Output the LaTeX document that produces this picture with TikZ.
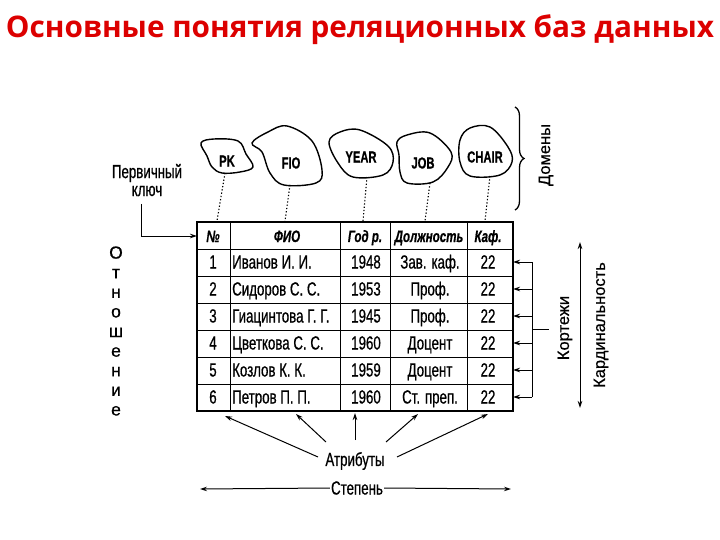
\documentclass[tikz,border=0pt]{standalone}
\usepackage{graphicx}
\usepackage{fontspec}
\setmainfont{Liberation Sans}
\newfontfamily\nar[FakeStretch=0.7,FakeBold=0.6]{Liberation Sans}
\newfontfamily\rfont[FakeBold=0.6]{Liberation Sans}
\newfontfamily\titlefont{Open Sans}
\usetikzlibrary{arrows.meta,decorations.pathreplacing}
\definecolor{titlered}{RGB}{220,0,0}
\begin{document}
\begin{tikzpicture}[x=1pt,y=-1pt,
  blob/.style={draw,line width=1.4pt},
  blobtext/.style={font=\nar\fontsize{16}{18}\selectfont\bfseries},
  cell/.style={font=\nar\fontsize{19}{21}\selectfont,inner sep=0pt,anchor=base},
  head/.style={font=\nar\fontsize{16.5}{18}\selectfont\bfseries\itshape,inner sep=0pt,anchor=base},
  lab/.style={font=\nar\fontsize{19}{21}\selectfont,inner sep=1pt},
  rlab/.style={font=\rfont\fontsize{16.5}{19}\selectfont,inner sep=1pt,rotate=90},
  dotcon/.style={dash pattern=on 1.3pt off 2pt,line width=1.1pt},
  arr/.style={-{Stealth[length=7pt,width=4.5pt]},line width=1pt},
  frame/.style={line width=2.4pt},
  grid/.style={line width=1pt}]
\useasboundingbox (0,0) rectangle (720,540);

% title
\node (title) at (360,30) {\resizebox{708pt}{!}{\titlefont\bfseries\color{titlered}Основные понятия реляционных баз данных}};

% domains (blobs)
\draw[blob] plot[smooth cycle,tension=0.6] coordinates {(201,143) (214,139) (238,141) (246,154) (253,167) (240,172) (222,173) (212,167) (207,156)};
\draw[blob] plot[smooth cycle,tension=0.6] coordinates {(252,143) (268,132) (287,126) (312,141) (322,170) (316,183) (284,185) (270,173) (262,152)};
\draw[blob] plot[smooth cycle,tension=0.6] coordinates {(329,142) (340,132) (360,130) (388,146) (393,162) (383,175) (353,177) (338,163)};
\draw[blob] plot[smooth cycle,tension=0.6] coordinates {(397,142) (407,135) (430,133) (451,152) (448,167) (433,182) (407,183) (400,172) (399,155)};
\draw[blob] plot[smooth cycle,tension=0.6] coordinates {(460,140) (470,128) (490,127) (508,147) (512,162) (500,175) (470,176) (460,162)};
\node[blobtext] (pk) at (227,161) {PK};
\node[blobtext] (fio) at (291,163) {FIO};
\node[blobtext] (year) at (361,157) {YEAR};
\node[blobtext] (job) at (423,163) {JOB};
\node[blobtext] (chair) at (485,157) {CHAIR};

% dotted links to table
\coordinate (pkb) at (225,173);   \coordinate (pkt) at (217,221);
\coordinate (fiob) at (290,185);  \coordinate (fiot) at (285,221);
\coordinate (yearb) at (367,177); \coordinate (yeart) at (363,221);
\coordinate (jobb) at (430,183);  \coordinate (jobt) at (425,221);
\coordinate (chairb) at (490,176);\coordinate (chairt) at (485,221);
\draw[dotcon] (pkb) -- (pkt);
\draw[dotcon] (fiob) -- (fiot);
\draw[dotcon] (yearb) -- (yeart);
\draw[dotcon] (jobb) -- (jobt);
\draw[dotcon] (chairb) -- (chairt);

% brace + Домены
\draw[line width=1.3pt,decorate,decoration={brace,amplitude=9pt}] (515,107) -- (515,210);
\node[rlab] (dom) at (546,155) {Домены};

% table
\foreach \x in {230,340,390,467} \draw[grid] (\x,222) -- (\x,411);
\foreach \y in {249,276,303,330,357,384} \draw[grid] (197,\y) -- (513,\y);
\draw[frame] (197,222) rectangle (513,411);
\node[head] (hn) at (213,242) {№};
\node[head] (hf) at (287,242) {ФИО};
\node[head] (hy) at (365,242) {Год р.};
\node[head] (hd) at (429,242) {Должность};
\node[head] (hk) at (488,242) {Каф.};
\foreach \n/\f/\g/\d/\y in {1/Иванов И. И./1948/Зав. каф./262,
  2/Сидоров С. С./1953/Проф./289,
  3/Гиацинтова Г. Г./1945/Проф./316,
  4/Цветкова С. С./1960/Доцент/343,
  5/Козлов К. К./1959/Доцент/370,
  6/Петров П. П./1960/Ст. преп./397}{
  \node[cell] (n\n) at (213,\y+6.5) {\n};
  \node[cell,anchor=base west] (f\n) at (232,\y+6.5) {\f};
  \node[cell] (g\n) at (366,\y+6.5) {\g};
  \node[cell] (d\n) at (430,\y+6.5) {\d};
  \node[cell] (k\n) at (488,\y+6.5) {22};
  \coordinate (re\n) at (513,\y);
  \coordinate (rv\n) at (532,\y);
  \draw[arr] (rv\n) -- (re\n);
}
\draw[line width=1pt] (rv1) -- (rv6);
\coordinate (tk1) at (532,329); \coordinate (tk2) at (549,329);
\draw[line width=1pt] (tk1) -- (tk2);
\node[rlab] (kort) at (565,328) {Кортежи};
\coordinate (ct) at (580,242); \coordinate (cb) at (580,408);
\draw[{Stealth[length=7pt,width=4.5pt]}-{Stealth[length=7pt,width=4.5pt]},line width=1pt] (ct) -- (cb);
\node[rlab] (kard) at (601,325) {Кардинальность};

% primary key
\node[lab] (pk1) at (147,173) {Первичный};
\node[lab] (pk2) at (147,191) {ключ};
\coordinate (pkl) at (141,204);
\coordinate (pke) at (197,236);
\draw[arr] (pkl) |- (pke);

% relation
\node[font=\rfont\fontsize{17.5}{19.6}\selectfont,align=center,inner sep=0pt] (rel) at (116,331) {О\\т\\н\\о\\ш\\е\\н\\и\\е};

% attributes
\node[lab] (atr) at (355,461) {Атрибуты};
\coordinate (a1s) at (318,457); \coordinate (a1e) at (225,416);
\coordinate (a2s) at (326,442); \coordinate (a2e) at (296,414);
\coordinate (a3s) at (355,440); \coordinate (a3e) at (355,413);
\coordinate (a4s) at (386,442); \coordinate (a4e) at (418,414);
\coordinate (a5s) at (397,457); \coordinate (a5e) at (488,414);
\draw[arr] (a1s) -- (a1e);
\draw[arr] (a2s) -- (a2e);
\draw[arr] (a3s) -- (a3e);
\draw[arr] (a4s) -- (a4e);
\draw[arr] (a5s) -- (a5e);

% degree
\node[lab] (st) at (357,488) {Степень};
\coordinate (stl) at (200,489); \coordinate (str) at (511,489);
\draw[arr] (st.west) -- (stl);
\draw[arr] (st.east) -- (str);
\end{tikzpicture}
\end{document}
